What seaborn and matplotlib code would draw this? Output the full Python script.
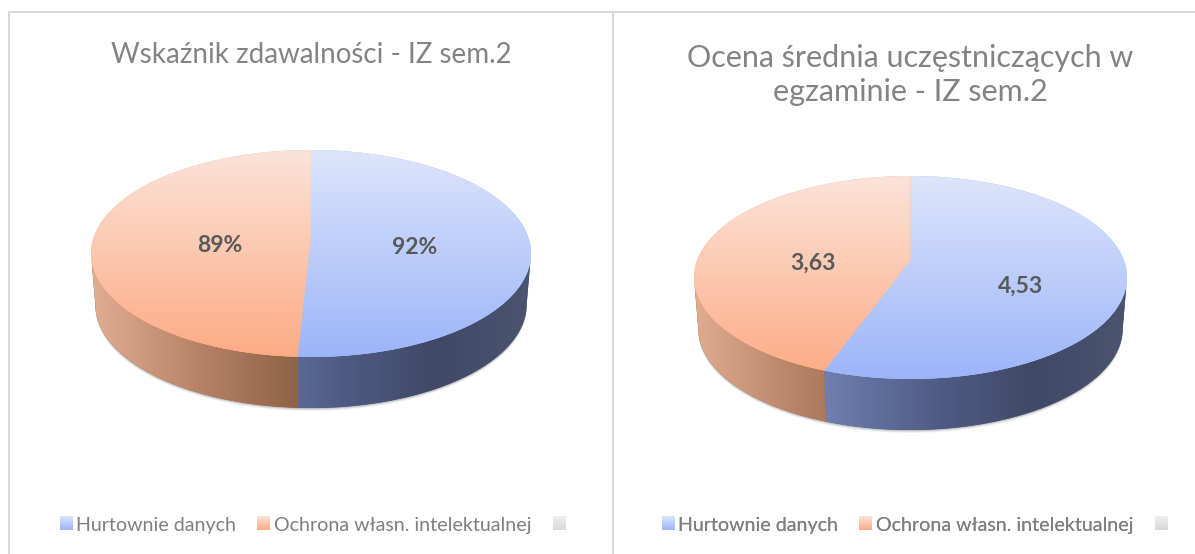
import numpy as np
import matplotlib
matplotlib.use("Agg")
import matplotlib.pyplot as plt
from matplotlib.colors import ListedColormap
from matplotlib.patches import Patch
import seaborn as sns

categories = ["Hurtownie danych", "Ochrona własn. intelektualnej", " "]

title_left = "Wskaźnik zdawalności - IZ sem.2"
values_left = [92, 89]
labels_left = ["92%", "89%"]

title_right = "Ocena średnia uczęstniczących w\negzaminie - IZ sem.2"
values_right = [4.53, 3.63]
labels_right = ["4,53", "3,63"]

W, H = 1195, 554
TILT = 0.17
DEPTH = 51

top_blue = ["#dde5fb", "#9cb5f9"]
top_orange = ["#fbe3d9", "#fdab84"]
wall_blue = ["#8a9aca", "#6878a8", "#4e5c84", "#3f4966", "#4b5570"]
wall_orange = ["#e2ad90", "#b98468", "#8f6246"]
legend_grey = ["#efefef", "#d9d9d9"]
line_grey = "#d9d9d9"

sns.set_theme(style="white")
plt.rcParams["font.family"] = ["Lato", "DejaVu Sans"]


def project(theta, cx, cy, rx, ry, shift=0.0, shrink=1.0):
    # unit circle to picture, slight perspective so the centre sits above the middle
    u = np.cos(np.radians(theta))
    v = np.sin(np.radians(theta))
    d = 1 + TILT * v
    a = ry * (1 - TILT ** 2)
    c = rx * np.sqrt(1 - TILT ** 2) * shrink
    apex = cy - TILT * ry
    return cx + c * u / d, apex - a * v / d + shift


def gradient(ax, cols, ext, clip, vertical=True, z=2):
    cmap = ListedColormap(sns.blend_palette(cols, 256))
    g = np.linspace(0, 1, 256)
    g = g[:, None] if vertical else g[None, :]
    im = ax.imshow(g, cmap=cmap, extent=ext, aspect="auto", origin="upper",
                   vmin=0, vmax=1, zorder=z, interpolation="bilinear")
    im.set_clip_path(clip)


def draw_pie(ax, values, labels, cx, cy, rx, ry, label_pos):
    wedges, _ = ax.pie(values, startangle=90, counterclock=False, radius=1)
    ax.set_aspect("auto")
    a = np.degrees(np.arcsin(TILT))
    wall_ext = [(cx - 160, cx + 220, H, 0), (cx - 220, cx - 13, H, 0)]
    for w, wc, ext in zip(wedges, [wall_blue, wall_orange], wall_ext):
        w.set_visible(False)
        # wall, front part only
        th = np.linspace(max(w.theta1, -180 + a), min(w.theta2, -a), 200)
        x1, y1 = project(th, cx, cy, rx, ry)
        x2, y2 = project(th, cx, cy, rx, ry, DEPTH, 0.98)
        xs = np.r_[x1, x2[::-1]]
        ys = np.r_[y1, y2[::-1]]
        # soft shadow under the wall
        for off, al in [(3, 0.10), (2, 0.18), (1, 0.3)]:
            ax.fill(xs, ys + off, color="#7f7f7f", alpha=al, lw=0, zorder=1)
        poly = ax.fill(xs, ys, facecolor=wc[-1], lw=0, zorder=2)[0]
        gradient(ax, wc, ext, poly, vertical=False, z=2)
    for w, tc in zip(wedges, [top_blue, top_orange]):
        x, y = project(np.linspace(w.theta1, w.theta2, 400), cx, cy, rx, ry)
        xs = np.r_[cx, x]
        ys = np.r_[cy - TILT * ry, y]
        poly = ax.fill(xs, ys, facecolor=tc[1], lw=0, zorder=3)[0]
        gradient(ax, tc, (cx - rx, cx + rx, cy + ry, cy - ry), poly, z=3)
    for lab, (lx, ly) in zip(labels, label_pos):
        ax.text(lx, ly, lab, ha="center", va="center", fontsize=16.5,
                fontweight="bold", color="#595959", zorder=6)


fig = plt.figure(figsize=(W / 100, H / 100), dpi=100, facecolor="white")
ax = fig.add_axes([0, 0, 1, 1])

draw_pie(ax, values_left, labels_left, 311, 253.5, 220, 103.5,
         [(415, 247), (220, 245)])
draw_pie(ax, values_right, labels_right, 910.5, 277.5, 216.5, 101.5,
         [(1021, 286), (813, 263)])

ax.set_xlim(0, W)
ax.set_ylim(H, 0)
ax.set_axis_off()

# frame of the two panels
ax.plot([9, 9], [H, 12], color=line_grey, lw=1.5, zorder=0)
ax.plot([9, W], [12, 12], color=line_grey, lw=1.5, zorder=0)
ax.plot([613, 613], [12, H], color=line_grey, lw=1.5, zorder=0)

ax.text(311, 55, title_left, ha="center", va="center", fontsize=20,
        color="#838383")
ax.text(910, 75, title_right, ha="center", va="center", fontsize=22,
        color="#838383", linespacing=1.3)

handles = [Patch(facecolor=c) for c in ["#b9cafa", "#fcc8af", "#e4e4e4"]]
legends = []
for x_mid in [317, 919]:
    leg = ax.legend(handles, categories, ncol=3, loc="center", frameon=False,
                    bbox_to_anchor=(x_mid, 525), bbox_transform=ax.transData,
                    fontsize=14.1, handlelength=0.66, handleheight=0.66,
                    handletextpad=0.2, columnspacing=1.07,
                    labelcolor="#7f7f7f", borderpad=0)
    ax.add_artist(leg)
    legends.append(leg)

# gradient squares over the legend keys
fig.canvas.draw()
inv = ax.transData.inverted()
for leg in legends:
    for patch, cols in zip(leg.get_patches(), [top_blue, top_orange, legend_grey]):
        bb = patch.get_window_extent()
        (x0, y0), (x1, y1) = inv.transform([(bb.x0, bb.y0), (bb.x1, bb.y1)])
        cmap = ListedColormap(sns.blend_palette(cols, 64))
        ax.imshow(np.linspace(0, 1, 64)[:, None], cmap=cmap, aspect="auto",
                  extent=(x0, x1, y0, y1), origin="upper", zorder=7)
ax.set_xlim(0, W)
ax.set_ylim(H, 0)

fig.savefig("out.png", dpi=100, facecolor="white")
